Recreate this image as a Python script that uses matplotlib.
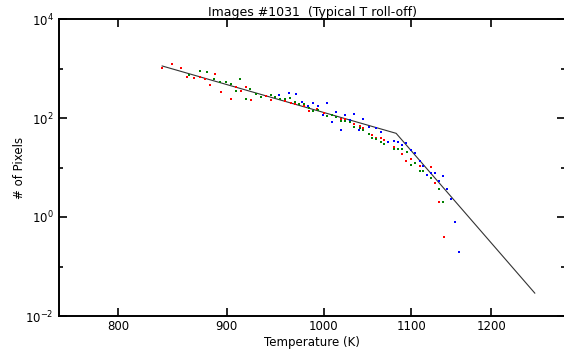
import matplotlib
matplotlib.use("Agg")
import matplotlib.pyplot as plt
from matplotlib.ticker import FixedLocator, NullLocator, FixedFormatter, NullFormatter
import numpy as np

# temperatures (K) and pixel counts
red_T = [839, 848, 856, 862, 869, 874, 879, 884, 889, 894, 899, 904, 909, 914,
         919, 924, 929, 939, 944, 959, 965, 969, 979, 984, 993, 1000, 1004,
         1019, 1024, 1029, 1034, 1040, 1044, 1054, 1059, 1064, 1068, 1079,
         1089, 1089, 1094, 1100, 1110, 1124, 1129, 1134, 1140]
red_N = [1040, 1230, 1010, 683, 652, 683, 614, 464, 785, 330, 541, 242, 417,
         351, 417, 231, 305, 282, 231, 220, 204, 189, 177, 140, 152, 125, 111,
         94, 94, 91, 75, 69, 62, 45, 40, 40, 36, 26, 24, 19, 13.7, 14.7, 10.7,
         10.3, 4.8, 2.0, 0.40]
green_T = [864, 874, 881, 888, 893, 899, 904, 909, 913, 919, 923, 929, 934,
           944, 948, 954, 959, 964, 969, 974, 979, 984, 989, 994, 1004, 1009,
           1014, 1019, 1024, 1029, 1034, 1040, 1044, 1050, 1054, 1059, 1064,
           1068, 1079, 1084, 1089, 1095, 1100, 1104, 1110, 1114, 1124, 1134,
           1139]
green_N = [729, 903, 838, 614, 541, 541, 480, 356, 605, 242, 380, 305, 269,
           296, 262, 242, 242, 250, 213, 189, 189, 159, 138, 144, 111, 115, 105,
           86, 86, 84, 65, 62, 58, 48, 40, 37, 32, 30, 24, 24, 24, 21, 11.2,
           12.5, 8.6, 8.6, 6.0, 3.7, 2.0]
blue_T = [953, 963, 970, 977, 983, 989, 994, 999, 1004, 1009, 1014, 1019,
          1024, 1029, 1034, 1039, 1044, 1050, 1059, 1064, 1073, 1080, 1084,
          1089, 1094, 1100, 1104, 1110, 1114, 1119, 1124, 1129, 1134, 1139,
          1144, 1149, 1154, 1159]
blue_N = [292, 324, 305, 213, 175, 204, 175, 115, 198, 82, 134, 57, 113, 91,
          119, 57, 94, 66, 62, 51, 32, 34, 32, 28.5, 31, 23, 20, 13.7, 10.7,
          7.2, 7.9, 7.9, 5.4, 6.6, 3.6, 2.3, 0.79, 0.20]

# fitted roll-off line
fit_T = [839, 1082, 1258]
fit_N = [1125, 49, 0.029]

xticks = [800, 900, 1000, 1100, 1200]

plt.rcParams['font.family'] = 'DejaVu Sans'
plt.rcParams['font.size'] = 8.5
plt.rcParams['mathtext.default'] = 'regular'

fig = plt.figure(figsize=(5.64, 3.54), dpi=100)
ax = fig.add_axes([59/564, 38/354, 506/564, 297/354])

ax.plot(fit_T, fit_N, color='#333333', lw=0.8)
ax.plot(red_T, red_N, 's', color='red', ms=1.9, mew=0)
ax.plot(green_T, green_N, 's', color='green', ms=1.9, mew=0)
ax.plot(blue_T, blue_N, 's', color='blue', ms=1.9, mew=0)

ax.set_xscale('log')
ax.set_yscale('log')
ax.set_xlim(750, 1300)
ax.set_ylim(1e-2, 1e4)

ax.xaxis.set_major_locator(FixedLocator(xticks))
ax.xaxis.set_major_formatter(FixedFormatter([str(t) for t in xticks]))
ax.xaxis.set_minor_locator(NullLocator())
ax.yaxis.set_major_locator(FixedLocator([1e-2, 1e0, 1e2, 1e4]))
ax.yaxis.set_minor_locator(FixedLocator([1e-1, 1e1, 1e3]))
ax.yaxis.set_major_formatter(FixedFormatter(['$10^{-2}$', '$10^{0}$', '$10^{2}$', '$10^{4}$']))
ax.yaxis.set_minor_formatter(NullFormatter())

ax.tick_params(which='both', direction='in', top=True, right=True, width=1.2)
ax.tick_params(which='major', length=6)
ax.tick_params(axis='x', which='major', pad=3)
ax.tick_params(axis='y', which='major', pad=4)
ax.tick_params(which='minor', length=3)
for s in ax.spines.values():
    s.set_linewidth(1.4)

ax.set_title('Images #1031  (Typical T roll-off)', fontsize=9, pad=2)
ax.set_xlabel('Temperature (K)', labelpad=2)
ax.set_ylabel('# of Pixels', labelpad=-1)

fig.savefig('out.png', dpi=100)
